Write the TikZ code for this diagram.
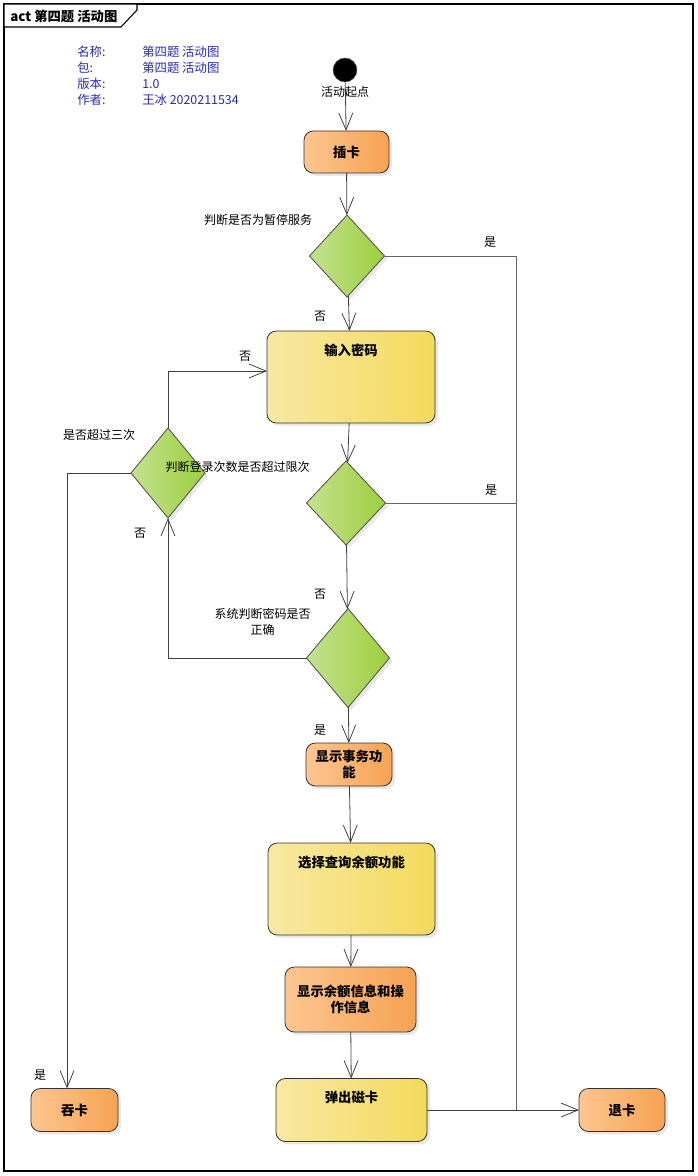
\documentclass[tikz,border=0pt]{standalone}
\usepackage{fontspec}
\setmainfont{Noto Sans CJK SC}
\usetikzlibrary{arrows.meta,shapes.geometric,shadows}
\definecolor{orgL}{HTML}{FCC690}
\definecolor{orgR}{HTML}{F7A253}
\definecolor{ylwL}{HTML}{F8E8A3}
\definecolor{ylwR}{HTML}{F3DA5C}
\definecolor{grnL}{HTML}{C4E290}
\definecolor{grnR}{HTML}{9CCF3E}
\definecolor{infoblue}{HTML}{2A2AB0}

\begin{document}
\begin{tikzpicture}[x=0.75pt,y=-0.75pt,
  line/.style={draw=black!75,line width=0.6pt},
  arr/.style={line,-{Straight Barb[length=12.75pt,width=10.5pt]}},
  txt/.style={font=\fontsize{9}{12}\selectfont,inner sep=0pt,align=center},
  bold/.style={font=\fontsize{10}{12}\selectfont\bfseries,inner sep=0pt,align=center},
  info/.style={txt,font=\fontsize{9.3}{12}\selectfont,text=infoblue,anchor=west},
  shade/.style={drop shadow={shadow xshift=2.2pt,shadow yshift=-2.2pt,fill=black!18}},
  act/.style={draw=black!80,line width=0.6pt,rounded corners=7pt,inner sep=0pt,outer sep=0pt,align=center,
    font=\fontsize{10}{12}\selectfont\bfseries,shade},
  org/.style={act,left color=orgL,right color=orgR},
  ylw/.style={act,left color=ylwL,right color=ylwR},
  dec/.style={diamond,draw=black!70,line width=0.6pt,inner sep=0pt,outer sep=0pt,
    left color=grnL,right color=grnR,shade}]
\useasboundingbox (0,0) rectangle (698,1176);
% frame and title tab
\draw[line width=0.8pt] (4,4) rectangle (693,1171);
\draw[line width=0.8pt,fill=white] (4,4) -- (4,27) -- (121,27) -- (137,10) -- (137,4) -- cycle;
\node[font=\fontsize{10}{12}\selectfont\bfseries,inner sep=0pt,anchor=west] (title) at (10,16) {act 第四题 活动图};
% info
\node[info] (k1) at (77,52) {名称:};
\node[info] (k2) at (77,68) {包:};
\node[info] (k3) at (77,84) {版本:};
\node[info] (k4) at (77,100) {作者:};
\node[info] (v1) at (142,52) {第四题 活动图};
\node[info] (v2) at (142,68) {第四题 活动图};
\node[info] (v3) at (142,84) {1.0};
\node[info] (v4) at (142,100) {王冰 2020211534};
% activities
\node[circle,fill=black,draw=black!60,minimum size=18pt,inner sep=0pt,
  label={[txt,label distance=3pt]below:活动起点}] (start) at (345,70) {};
\node[org,minimum width=63.75pt,minimum height=31.5pt] (insert) at (346.5,152) {插卡};
\node[dec,minimum width=56.25pt,minimum height=61.5pt] (d1) at (347,256) {};
\node[ylw,minimum width=126pt,minimum height=69pt,
  label={[bold,anchor=north,yshift=-9.5pt]north:输入密码}] (pwd) at (351,377) {};
\node[dec,minimum width=59.25pt,minimum height=63pt] (d2) at (346,503) {};
\node[dec,minimum width=62.25pt,minimum height=74.25pt] (d3) at (348,658) {};
\node[dec,minimum width=55.5pt,minimum height=67.5pt] (d4) at (168,473) {};
\node[org,minimum width=64.5pt,minimum height=32.25pt] (menu) at (349,764.5) {显示事务功\\能};
\node[ylw,minimum width=125.25pt,minimum height=69pt,
  label={[bold,anchor=north,yshift=-9.5pt]north:选择查询余额功能}] (query) at (351.5,889) {};
\node[org,minimum width=98.25pt,minimum height=48.75pt] (show) at (350.5,999.5) {显示余额信息和操\\作信息};
\node[ylw,minimum width=113.25pt,minimum height=47.25pt,
  label={[bold,anchor=north,yshift=-9.5pt]north:弹出磁卡}] (eject) at (351.5,1110) {};
\node[org,minimum width=64.5pt,minimum height=32.25pt] (quit) at (622,1110) {退卡};
\node[org,minimum width=65.25pt,minimum height=32.25pt] (swallow) at (74.5,1110) {吞卡};
\coordinate (m) at (516,1110);
% flows
\foreach \u/\v in {start/insert,insert/d1,d1/pwd,pwd/d2,d2/d3,d3/menu,menu/query,query/show,show/eject,eject/quit}
  \draw[arr] (\u) -- (\v);
\draw[line,draw=black!60] (d1.east) -| (m);
\draw[line,draw=black!60] (d2.east) -- (d2.east -| m);
\draw[arr] (d3.west) -| (d4.south);
\draw[arr] (d4.north) |- ([yshift=4.5pt]pwd.west);
\draw[arr] (d4.west) -| ([xshift=-5.6pt]swallow.north);
% guards
\node[txt] (g1) at (258,220) {判断是否为暂停服务};
\node[txt] (g2) at (490,242) {是};
\node[txt] (g3) at (320,316) {否};
\node[txt] (g4) at (245,356) {否};
\node[txt] (g5) at (99,435) {是否超过三次};
\node[txt] (g6) at (237.5,467) {判断登录次数是否超过限次};
\node[txt] (g7) at (491,490) {是};
\node[txt] (g8) at (140,533) {否};
\node[txt] (g9) at (320,594) {否};
\node[txt] (g10) at (262.5,622) {系统判断密码是否\\正确};
\node[txt] (g11) at (320,730) {是};
\node[txt] (g12) at (40,1075) {是};
\end{tikzpicture}
\end{document}
